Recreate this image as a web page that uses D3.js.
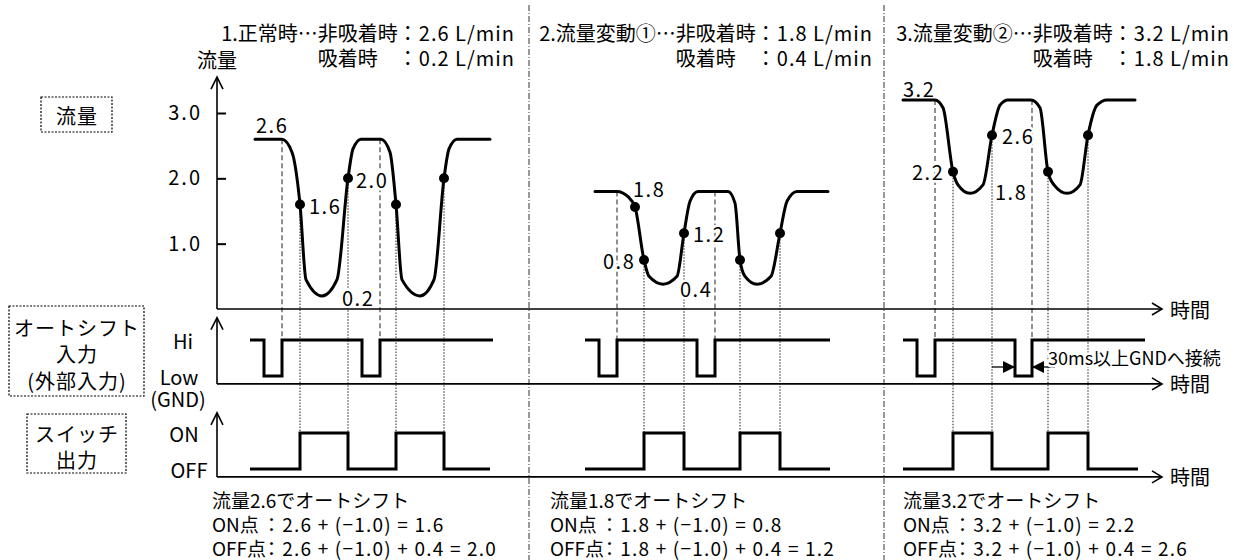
<!DOCTYPE html>
<html>
<head>
<meta charset="utf-8">
<script src="https://cdn.jsdelivr.net/npm/d3@7"></script>
<style>
  body { margin: 0; background: #fff; }
  svg { display: block; font-family: "Noto Sans CJK JP", "Noto Sans", sans-serif; }
  .lbl { font-size: 20px; }
  .halo { paint-order: stroke; stroke: #fff; stroke-width: 5px; stroke-linejoin: round; }
</style>
</head>
<body>
<svg id="chart" width="1234" height="560"></svg>
<script>
// time is in arbitrary units (0..100 across the chart), flow in L/min
var flowTicks = [1.0, 2.0, 3.0];
var dividers = [31.2, 66.7];

var headTitles = ['1.正常時⋯非吸着時', '2.流量変動①⋯非吸着時', '3.流量変動②⋯非吸着時'];
var idleFlow = ['2.6', '1.8', '3.2'];
var holdFlow = ['0.2', '0.4', '1.8'];
var onPoint = ['1.6', '0.8', '2.2'];
var offPoint = ['2.0', '1.2', '2.6'];

// flow curves [time, flow]
var flow1 = [[3.8, 2.6], [6.5, 2.6], [7.5, 2.4], [8.3, 1.6], [8.9, 0.45], [10.5, 0.2], [12.0, 0.45],
  [13.1, 2.0], [13.6, 2.45], [14.4, 2.6], [16.4, 2.6], [17.3, 2.4], [17.9, 1.6], [18.5, 0.45],
  [20.3, 0.2], [21.7, 0.45], [22.7, 2.0], [23.2, 2.45], [24.0, 2.6], [27.3, 2.6]];
var flow2 = [[37.8, 1.8], [40.0, 1.8], [41.1, 1.72], [41.8, 1.56], [42.7, 0.75], [43.2, 0.5],
  [44.6, 0.38], [46.0, 0.5], [46.7, 1.16], [47.3, 1.65], [48.1, 1.8], [51.1, 1.8], [51.8, 1.62],
  [52.3, 0.75], [52.8, 0.5], [54.0, 0.38], [55.4, 0.5], [56.3, 1.16], [57.0, 1.65], [58.0, 1.8], [61.1, 1.8]];
var flow3 = [[68.6, 3.2], [71.8, 3.2], [72.6, 3.08], [73.6, 2.1], [74.1, 1.9], [75.3, 1.77], [76.6, 1.9],
  [77.5, 2.66], [78.3, 3.12], [79.1, 3.2], [81.4, 3.2], [82.3, 3.08], [83.1, 2.1], [83.7, 1.9],
  [85.0, 1.77], [86.3, 1.9], [87.1, 2.66], [88.0, 3.12], [89.0, 3.2], [91.8, 3.2]];

// switching points on the curves [time, flow]
var dots1 = [[8.3, 1.6], [13.1, 2.0], [17.9, 1.6], [22.7, 2.0]];
var dots2 = [[42.7, 0.75], [46.7, 1.16], [52.3, 0.75], [56.3, 1.16]];
var dots3 = [[73.6, 2.1], [77.5, 2.66], [83.1, 2.1], [87.1, 2.66]];
var extraDots2 = [[41.8, 1.56]];

// auto shift input (1 = Hi, 0 = Low) and switch output (1 = ON, 0 = OFF), step points
var input1 = [[3.3, 1], [4.7, 0], [6.5, 1], [14.5, 0], [16.3, 1], [27.6, 1]];
var input2 = [[36.8, 1], [38.2, 0], [40.0, 1], [48.0, 0], [49.8, 1], [61.3, 1]];
var input3 = [[68.6, 1], [70.0, 0], [71.8, 1], [79.8, 0], [81.5, 1], [92.8, 1]];
var switch1 = [[3.3, 0], [8.3, 1], [13.1, 0], [17.9, 1], [22.7, 0], [27.3, 0]];
var switch2 = [[36.8, 0], [42.7, 1], [46.7, 0], [52.3, 1], [56.3, 0], [61.3, 0]];
var switch3 = [[68.6, 0], [73.6, 1], [77.5, 0], [83.1, 1], [87.1, 0], [92.1, 0]];

// auto shift moments (input back to Hi) [time]
var shift1 = [6.5, 16.3];
var shift2 = [40.0, 49.8];
var shift3 = [71.8, 81.5];

// value labels [text, time, flow]
var labels1 = [['2.6', 3.9, 2.82], ['1.6', 9.2, 1.58], ['2.0', 13.9, 1.98], ['0.2', 12.5, 0.18]];
var labels2 = [['1.8', 41.6, 1.84], ['0.8', 38.6, 0.75], ['1.2', 47.6, 1.16], ['0.4', 46.3, 0.32]];
var labels3 = [['3.2', 68.6, 3.38], ['2.2', 69.5, 2.1], ['2.6', 78.5, 2.66], ['1.8', 77.8, 1.8]];

var svg = d3.select('#chart');

var x = d3.scaleLinear().domain([0, 100]).range([217, 1217]);
var y = d3.scaleLinear().domain([0, 3]).range([309, 113]);
var yIn = d3.scaleLinear().domain([0, 1]).range([376, 340]);
var ySw = d3.scaleLinear().domain([0, 1]).range([469, 433]);
var xEnd = x(94.5);

var panels = [
  { curve: flow1, dots: dots1, input: input1, sw: switch1, shift: shift1, labels: labels1 },
  { curve: flow2, dots: dots2, input: input2, sw: switch2, shift: shift2, labels: labels2 },
  { curve: flow3, dots: dots3, input: input3, sw: switch3, shift: shift3, labels: labels3 }
];

// panel dividers
svg.selectAll('.divider')
  .data(dividers)
  .enter().append('line')
    .attr('x1', d => x(d)).attr('x2', d => x(d))
    .attr('y1', 5).attr('y2', 560)
    .attr('stroke', '#333').attr('stroke-width', 1)
    .attr('stroke-dasharray', '6,2,1,2');

// reference lines
panels.forEach(function (p, i) {
  var level = +idleFlow[i];
  svg.selectAll(null)
    .data(p.shift)
    .enter().append('line')
      .attr('x1', d => x(d)).attr('x2', d => x(d))
      .attr('y1', y(level)).attr('y2', yIn(1))
      .attr('stroke', '#555').attr('stroke-width', 1.3)
      .attr('stroke-dasharray', '5,3');
  svg.selectAll(null)
    .data(p.dots)
    .enter().append('line')
      .attr('x1', d => x(d[0])).attr('x2', d => x(d[0]))
      .attr('y1', d => y(d[1])).attr('y2', ySw(1))
      .attr('stroke', '#333').attr('stroke-width', 1.1)
      .attr('stroke-dasharray', '1.5,1.5');
});

// value labels (white halo cuts the reference lines)
panels.forEach(function (p) {
  svg.selectAll(null)
    .data(p.labels)
    .enter().append('text')
      .attr('class', 'lbl halo')
      .attr('x', d => x(d[1])).attr('y', d => y(d[2]))
      .attr('dominant-baseline', 'central')
      .attr('letter-spacing', 1.5)
      .text(d => d[0]);
});

// axes
function upArrow (cx, top) {
  return `M${cx - 6},${top + 12}L${cx},${top}L${cx + 6},${top + 12}`;
}
function rightArrow (cy) {
  return `M${xEnd - 10},${cy - 6}L${xEnd},${cy}L${xEnd - 10},${cy + 6}`;
}
var axisG = svg.append('g').attr('fill', 'none').attr('stroke', '#000').attr('stroke-width', 1.6);
[[y(0), y(3.55)], [yIn(-0.22), yIn(1.62)], [ySw(-0.22), ySw(1.56)]].forEach(function (a) {
  axisG.append('line').attr('x1', x(0)).attr('x2', x(0)).attr('y1', a[0]).attr('y2', a[1]);
  axisG.append('path').attr('d', upArrow(x(0), a[1]));
  axisG.append('line').attr('x1', x(0)).attr('x2', xEnd).attr('y1', a[0]).attr('y2', a[0]);
  axisG.append('path').attr('d', rightArrow(a[0]));
  svg.append('text').attr('class', 'lbl')
    .attr('x', xEnd + 8).attr('y', a[0])
    .attr('dominant-baseline', 'central')
    .text('時間');
});

var yAxis = svg.append('g')
  .attr('transform', `translate(${x(0)},0)`)
  .call(d3.axisLeft(y).tickValues(flowTicks).tickSizeInner(-9).tickSizeOuter(0)
    .tickPadding(15).tickFormat(d3.format('.1f')));
yAxis.select('.domain').remove();
yAxis.selectAll('.tick line').attr('stroke-width', 2);
yAxis.selectAll('.tick text')
  .attr('font-size', 20).attr('font-family', '"Noto Sans CJK JP", sans-serif')
  .attr('letter-spacing', 2);

svg.append('text').attr('class', 'lbl')
  .attr('x', x(0)).attr('y', 59)
  .attr('text-anchor', 'middle').attr('dominant-baseline', 'central')
  .text('流量');

// curves and signals
var flowLine = d3.line().x(d => x(d[0])).y(d => y(d[1])).curve(d3.curveMonotoneX);
var inLine = d3.line().x(d => x(d[0])).y(d => yIn(d[1])).curve(d3.curveStepAfter);
var swLine = d3.line().x(d => x(d[0])).y(d => ySw(d[1])).curve(d3.curveStepAfter);

panels.forEach(function (p) {
  svg.append('path').attr('d', flowLine(p.curve))
    .attr('fill', 'none').attr('stroke', '#000').attr('stroke-width', 3)
    .attr('stroke-linecap', 'round');
  svg.append('path').attr('d', inLine(p.input))
    .attr('fill', 'none').attr('stroke', '#000').attr('stroke-width', 3);
  svg.append('path').attr('d', swLine(p.sw))
    .attr('fill', 'none').attr('stroke', '#000').attr('stroke-width', 3);
  svg.selectAll(null)
    .data(p.dots)
    .enter().append('circle')
      .attr('cx', d => x(d[0])).attr('cy', d => y(d[1])).attr('r', 5);
});
svg.selectAll(null)
  .data(extraDots2)
  .enter().append('circle')
    .attr('cx', d => x(d[0])).attr('cy', d => y(d[1])).attr('r', 5);

// 30ms dimension on panel 3
var lowStart = input3[3][0], lowEnd = input3[4][0];
var dimY = yIn(0.25);
svg.append('line').attr('x1', x(switch3[2][0])).attr('x2', x(lowStart)).attr('y1', dimY).attr('y2', dimY)
  .attr('stroke', '#000').attr('stroke-width', 1.3);
svg.append('line').attr('x1', x(lowEnd)).attr('x2', x(lowEnd) + 23).attr('y1', dimY).attr('y2', dimY)
  .attr('stroke', '#000').attr('stroke-width', 1.3);
svg.append('path')
  .attr('d', `M${x(lowStart)},${dimY}l-12,-6v12z M${x(lowEnd)},${dimY}l12,-6v12z`);
svg.append('text').attr('class', 'halo')
  .attr('x', x(lowEnd) + 16).attr('y', yIn(0.53))
  .attr('font-size', 18).attr('dominant-baseline', 'central')
  .text('30ms以上GNDへ接続');

// headers
var headRight = [515, 873, 1230];
headRight.forEach(function (xr, i) {
  var v1 = svg.append('text').attr('class', 'lbl')
    .attr('x', xr).attr('y', 32).attr('text-anchor', 'end')
    .attr('dominant-baseline', 'central').attr('letter-spacing', 1)
    .text('：' + idleFlow[i] + ' L/min');
  var x0 = xr - v1.node().getComputedTextLength();
  svg.append('text').attr('class', 'lbl')
    .attr('x', x0).attr('y', 32).attr('text-anchor', 'end')
    .attr('dominant-baseline', 'central')
    .text(headTitles[i]);
  svg.append('text').attr('class', 'lbl')
    .attr('x', x0).attr('y', 57)
    .attr('dominant-baseline', 'central').attr('letter-spacing', 1)
    .text('：' + holdFlow[i] + ' L/min');
  svg.append('text').attr('class', 'lbl')
    .attr('x', x0 - 80).attr('y', 57)
    .attr('dominant-baseline', 'central')
    .text('吸着時');
});

// footers
var footLeft = [212, 550, 903];
footLeft.forEach(function (xl, i) {
  var g = svg.append('g').attr('font-size', 19).attr('dominant-baseline', 'central');
  g.append('text').attr('x', xl).attr('y', 499).text('流量' + idleFlow[i] + 'でオートシフト');
  g.append('text').attr('x', xl).attr('y', 523).text('ON点');
  g.append('text').attr('x', xl).attr('y', 547).text('OFF点');
  g.append('text').attr('x', xl + 50).attr('y', 523).attr('letter-spacing', 1.2)
    .text('：' + idleFlow[i] + ' + (−1.0) = ' + onPoint[i]);
  g.append('text').attr('x', xl + 50).attr('y', 547).attr('letter-spacing', 1.2)
    .text('：' + idleFlow[i] + ' + (−1.0) + 0.4 = ' + offPoint[i]);
});

// left boxes
var boxes = [
  { x: 41, y: 97, w: 71, h: 35, lines: ['流量'], y0: 115, cx: 77 },
  { x: 9, y: 306, w: 135, h: 90, lines: ['オートシフト', '入力', '(外部入力)'], y0: 327, cx: 77 },
  { x: 27, y: 414, w: 99, h: 59, lines: ['スイッチ', '出力'], y0: 433, cx: 77 }
];
boxes.forEach(function (b) {
  svg.append('rect').attr('x', b.x).attr('y', b.y).attr('width', b.w).attr('height', b.h)
    .attr('fill', 'none').attr('stroke', '#000').attr('stroke-width', 1.2)
    .attr('stroke-dasharray', '2,1.5');
  b.lines.forEach(function (t, k) {
    svg.append('text').attr('class', 'lbl')
      .attr('x', b.cx).attr('y', b.y0 + k * 26.5)
      .attr('text-anchor', 'middle').attr('dominant-baseline', 'central')
      .attr('letter-spacing', 1)
      .text(t);
  });
});

// level names
[['Hi', 183, yIn(1)], ['Low', 179, yIn(0)], ['(GND)', 178, 398], ['ON', 184, ySw(1)], ['OFF', 189, ySw(0)]]
  .forEach(function (l) {
    svg.append('text').attr('class', 'lbl')
      .attr('x', l[1]).attr('y', l[2])
      .attr('text-anchor', 'middle').attr('dominant-baseline', 'central')
      .attr('font-size', l[0] === '(GND)' ? 19 : 20)
      .text(l[0]);
  });
</script>
</body>
</html>
